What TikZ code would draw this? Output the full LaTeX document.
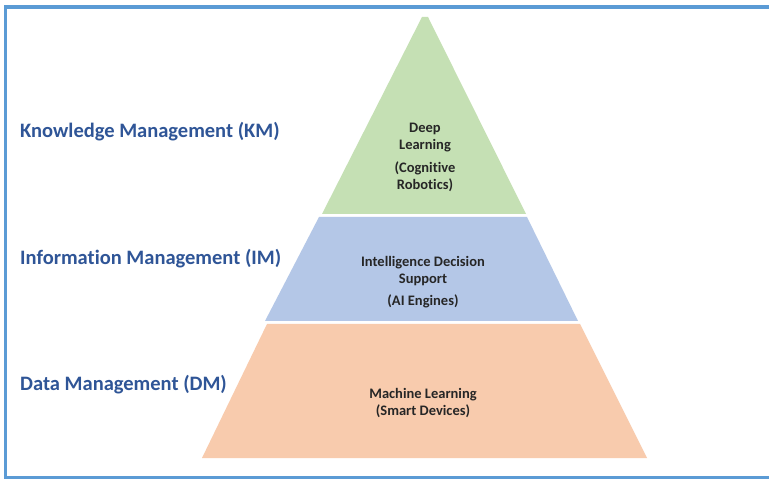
\documentclass[tikz,border=0pt]{standalone}
\usepackage{fontspec}
\setmainfont[Ligatures=NoCommon]{Carlito}
\definecolor{frameblue}{HTML}{5B9BD5}
\definecolor{labelblue}{HTML}{2F5597}
\definecolor{tiergreen}{HTML}{C5E0B4}
\definecolor{tierblue}{HTML}{B4C7E7}
\definecolor{tierorange}{HTML}{F8CBAD}
\begin{document}
\begin{tikzpicture}[x=1pt,y=-1pt,
  levellabel/.style={anchor=west,font=\fontsize{20.5}{24}\selectfont\bfseries,text=labelblue,inner sep=0pt},
  tiertext/.style={align=center,font=\fontsize{14.5}{17}\selectfont\bfseries,text=black!85,inner sep=0pt}]
\useasboundingbox (0,0) rectangle (769,481);
\fill[white] (0,0) rectangle (769,481);
% frame
\draw[frameblue,line width=3.2pt] (769,7) -- (5.5,7) -- (5.5,477.5) -- (769,477.5);
% tiers
\fill[tiergreen] (422,17) -- (428,17) -- (526,214) -- (322,214) -- cycle;
\fill[tierblue] (319,217) -- (527,217) -- (578,321) -- (265,321) -- cycle;
\fill[tierorange] (267,324) -- (580,324) -- (647,458) -- (202,458) -- cycle;
% level labels
\node[levellabel] (km) at (20,131.5) {Knowledge Management (KM)};
\node[levellabel] (im) at (20,258.5) {Information Management (IM)};
\node[levellabel] (dm) at (20,384.5) {Data Management (DM)};
% tier texts
\node[tiertext] (dl) at (425,138) {Deep\\Learning};
\node[tiertext] (cr) at (425,177) {(Cognitive\\Robotics)};
\node[tiertext] (ids) at (423,271) {Intelligence Decision\\Support};
\node[tiertext] (ai) at (423,301.5) {(AI Engines)};
\node[tiertext] (ml) at (423,403) {Machine Learning\\(Smart Devices)};
\end{tikzpicture}
\end{document}
